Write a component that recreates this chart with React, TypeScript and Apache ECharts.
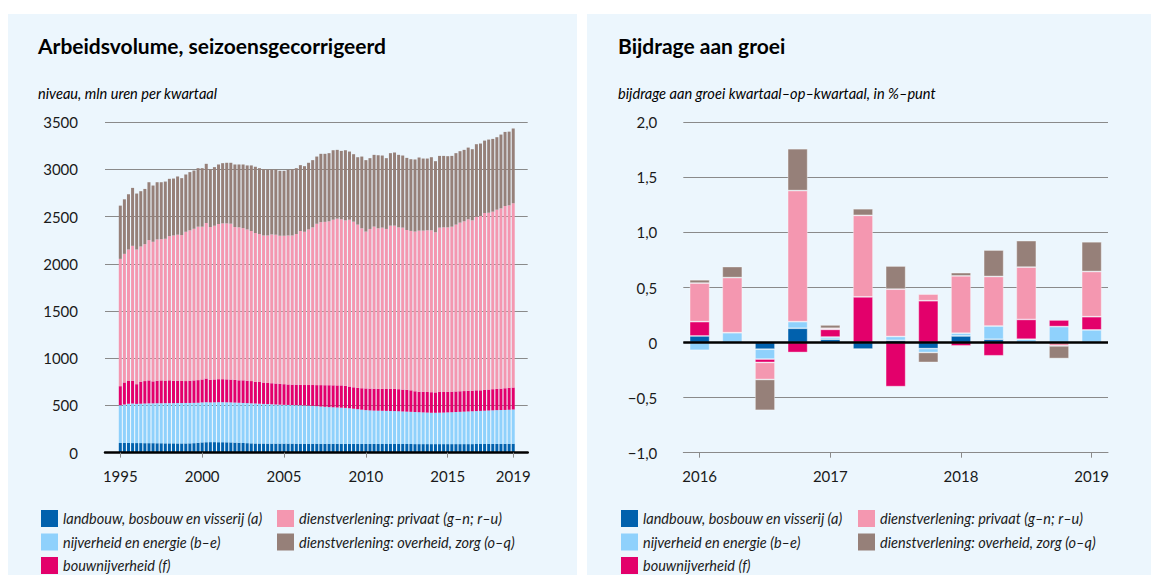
import React, { useEffect, useRef } from "react";
import * as echarts from "echarts";

const FONT = "Lato, 'Noto Sans', sans-serif";

const sectorNames = [
  "landbouw, bosbouw en visserij (a)",
  "nijverheid en energie (b–e)",
  "bouwnijverheid (f)",
  "dienstverlening: privaat (g–n; r–u)",
  "dienstverlening: overheid, zorg (o–q)",
];
const sectorColors = ["#0161ad", "#8fd1fc", "#e3006b", "#f497b0", "#968079"];

// ---- Left: level, mln hours per quarter, 1995 K1 .. 2019 K1 ----
const levelQuarters: string[] = [];
for (let y = 1995; y <= 2019; y++) {
  for (let q = 1; q <= 4; q++) {
    if (y === 2019 && q > 1) break;
    levelQuarters.push(`${y} K${q}`);
  }
}
const levelTickYears = [1995, 2000, 2005, 2010, 2015, 2019];

const landbouwLevel = [
  102, 102, 102, 101, 101, 101, 100, 100, 100, 99, 99, 98, 98, 98, 97, 97, 97, 98, 100, 104,
  108, 110, 111, 111, 110, 110, 109, 108, 106, 104, 102, 100, 98, 97, 96, 96, 95, 95, 95, 95,
  95, 95, 95, 94, 94, 94, 94, 94, 94, 93, 93, 93, 93, 93, 93, 93, 93, 92, 92, 92,
  92, 92, 92, 92, 91, 91, 91, 91, 91, 91, 91, 91, 90, 90, 90, 90, 90, 90, 90, 90,
  90, 90, 90, 90, 90, 90, 90, 91, 91, 91, 92, 92, 92, 92, 93, 93, 93,
];
const nijverheidLevel = [
  400, 408, 416, 419, 415, 417, 420, 422, 422, 424, 424, 426, 426, 426, 428, 428, 429, 428, 427, 424,
  424, 424, 421, 422, 424, 424, 424, 424, 424, 424, 424, 424, 424, 423, 422, 420, 419, 417, 415, 413,
  411, 410, 409, 409, 408, 406, 404, 402, 398, 395, 392, 389, 387, 385, 383, 381, 377, 373, 368, 363,
  358, 355, 353, 352, 352, 351, 350, 349, 347, 345, 343, 341, 340, 338, 336, 334, 332, 332, 333, 334,
  336, 338, 340, 342, 344, 346, 348, 349, 351, 353, 354, 356, 358, 359, 359, 361, 363,
];
const bouwLevel = [
  202, 233, 242, 242, 209, 234, 238, 243, 233, 239, 242, 239, 242, 236, 237, 235, 232, 236, 238, 240,
  243, 251, 240, 242, 244, 244, 243, 242, 240, 238, 240, 238, 236, 232, 230, 226, 224, 223, 222, 220,
  219, 217, 216, 217, 216, 216, 218, 220, 223, 227, 229, 232, 233, 234, 236, 234, 230, 227, 226, 227,
  230, 231, 232, 232, 232, 232, 235, 235, 234, 232, 231, 228, 220, 217, 219, 218, 218, 216, 219, 218,
  219, 218, 218, 218, 218, 219, 218, 220, 218, 220, 222, 224, 225, 227, 230, 232, 234,
];
const privaatLevel = [
  1349, 1363, 1392, 1429, 1427, 1432, 1451, 1487, 1479, 1497, 1497, 1503, 1528, 1541, 1547, 1545, 1582, 1593, 1607, 1626,
  1619, 1648, 1618, 1629, 1644, 1651, 1653, 1652, 1620, 1621, 1613, 1603, 1590, 1574, 1568, 1559, 1563, 1577, 1577, 1570,
  1573, 1579, 1581, 1596, 1630, 1624, 1649, 1671, 1710, 1727, 1731, 1737, 1755, 1767, 1760, 1753, 1768, 1755, 1730, 1695,
  1662, 1692, 1718, 1701, 1709, 1696, 1729, 1730, 1715, 1716, 1694, 1689, 1692, 1707, 1707, 1714, 1716, 1697, 1742, 1745,
  1742, 1748, 1768, 1787, 1799, 1817, 1805, 1840, 1847, 1875, 1874, 1881, 1899, 1910, 1931, 1934, 1951,
];
const overheidLevel = [
  564, 578, 586, 614, 593, 586, 585, 613, 596, 606, 603, 606, 607, 603, 617, 603, 607, 617, 617, 620,
  620, 627, 614, 621, 631, 638, 642, 645, 663, 666, 674, 678, 695, 702, 698, 703, 699, 688, 691, 688,
  688, 695, 703, 698, 698, 695, 706, 712, 712, 724, 721, 722, 736, 729, 725, 743, 722, 715, 714, 760,
  757, 750, 760, 774, 764, 750, 768, 775, 768, 764, 764, 760, 764, 775, 764, 760, 774, 753, 760, 757,
  754, 750, 757, 757, 757, 760, 754, 768, 768, 767, 775, 771, 768, 782, 785, 781, 792,
];

// ---- Right: contribution to q-o-q growth, %-point, 2016 K1 .. 2019 K1 ----
const growthQuarters = [
  "2016 K1", "2016 K2", "2016 K3", "2016 K4",
  "2017 K1", "2017 K2", "2017 K3", "2017 K4",
  "2018 K1", "2018 K2", "2018 K3", "2018 K4",
  "2019 K1",
];
const landbouwGrowth = [0.06, 0.0, -0.06, 0.13, 0.03, -0.06, 0.02, -0.055, 0.06, 0.03, 0.0, 0.0, 0.0];
const nijverheidGrowth = [-0.07, 0.09, -0.09, 0.06, 0.02, 0.0, 0.035, -0.035, 0.025, 0.12, 0.03, 0.145, 0.115];
const bouwGrowth = [0.13, 0.0, -0.03, -0.09, 0.07, 0.415, -0.4, 0.38, -0.03, -0.12, 0.18, 0.06, 0.12];
const privaatGrowth = [0.35, 0.5, -0.155, 1.19, 0.01, 0.74, 0.43, 0.06, 0.52, 0.45, 0.475, -0.03, 0.41];
const overheidGrowth = [0.03, 0.1, -0.28, 0.38, 0.03, 0.06, 0.21, -0.09, 0.03, 0.24, 0.24, -0.115, 0.27];

const levelSeries = [landbouwLevel, nijverheidLevel, bouwLevel, privaatLevel, overheidLevel];
const growthSeries = [landbouwGrowth, nijverheidGrowth, bouwGrowth, privaatGrowth, overheidGrowth];

const PANEL_BG = "#ecf6fd";
const GRID_COLOR = "#8a8a8a";
const TEXT_COLOR = "#1a1a1a";

// Left chart geometry: the frame (gridlines, axis) is a bit wider than the bar band.
const LEFT_FRAME = { left: 105, top: 122.3, width: 422.7, height: 330.3 };
const QUARTER_PX = 4.093;
const FIRST_BAR_CENTER = 120.3;
const frameYears = {
  min: 1995 - (FIRST_BAR_CENTER - LEFT_FRAME.left) / (QUARTER_PX * 4),
  max: 1995 + (LEFT_FRAME.left + LEFT_FRAME.width - FIRST_BAR_CENTER) / (QUARTER_PX * 4),
};

function fmtGrowth(v: number) {
  if (Math.abs(v) < 1e-9) return "0";
  const s = Math.abs(v).toFixed(1).replace(".", ",");
  return (v < 0 ? "−" : "") + s;
}

function buildOption() {
  const legendBase = {
    orient: "vertical" as const,
    icon: "rect",
    itemWidth: 17,
    itemHeight: 17,
    itemGap: 6.5,
    padding: 0,
    top: 510,
    selectedMode: false,
    textStyle: { fontFamily: FONT, fontStyle: "italic", fontSize: 14.5, color: TEXT_COLOR },
  };
  const text = (x: number, y: number, t: string, size: number, weight: string, style: string) => ({
    type: "text",
    x,
    y,
    silent: true,
    style: {
      text: t,
      fontFamily: FONT,
      fontSize: size,
      fontWeight: weight,
      fontStyle: style,
      fill: "#000",
      verticalAlign: "middle",
      align: "left",
    },
  });

  return {
    animation: false,
    textStyle: { fontFamily: FONT },
    graphic: [
      { type: "rect", z: -10, silent: true, shape: { x: 8, y: 14, width: 569, height: 561 }, style: { fill: PANEL_BG } },
      { type: "rect", z: -10, silent: true, shape: { x: 587, y: 14, width: 564, height: 561 }, style: { fill: PANEL_BG } },
      text(38, 45, "Arbeidsvolume, seizoensgecorrigeerd", 21, "bold", "normal"),
      text(38, 93, "niveau, mln uren per kwartaal", 14.6, "normal", "italic"),
      text(618, 45, "Bijdrage aan groei", 21, "bold", "normal"),
      text(618, 93, "bijdrage aan groei kwartaal–op–kwartaal, in %–punt", 14.6, "normal", "italic"),
    ],
    legend: [
      { ...legendBase, left: 41, data: sectorNames.slice(0, 3) },
      { ...legendBase, left: 277, data: sectorNames.slice(3) },
      { ...legendBase, left: 621, data: sectorNames.slice(0, 3) },
      { ...legendBase, left: 858, data: sectorNames.slice(3) },
    ],
    grid: [
      { ...LEFT_FRAME },
      { left: 683.3, top: 122.3, width: 424.7, height: 330.4 },
      {
        left: FIRST_BAR_CENTER - QUARTER_PX / 2,
        top: LEFT_FRAME.top,
        width: QUARTER_PX * levelQuarters.length,
        height: LEFT_FRAME.height,
      },
    ],
    xAxis: [
      {
        gridIndex: 0,
        type: "value",
        min: frameYears.min,
        max: frameYears.max,
        z: 5,
        splitLine: { show: false },
        axisLine: { show: true, onZero: false, lineStyle: { color: "#000", width: 2.5 } },
        axisTick: { show: true, length: 5, lineStyle: { color: GRID_COLOR }, customValues: levelTickYears },
        axisLabel: {
          customValues: levelTickYears,
          formatter: (v: number) => String(Math.round(v)),
          fontSize: 15,
          color: TEXT_COLOR,
          margin: 16,
          fontFamily: FONT,
        },
      },
      {
        gridIndex: 1,
        type: "category",
        data: growthQuarters,
        boundaryGap: true,
        axisLine: { show: true, onZero: false, lineStyle: { color: GRID_COLOR, width: 1 } },
        axisTick: {
          show: true,
          alignWithLabel: true,
          length: 5,
          interval: (i: number) => i % 4 === 0,
          lineStyle: { color: GRID_COLOR },
        },
        axisLabel: {
          interval: (i: number) => i % 4 === 0,
          formatter: (v: string) => v.slice(0, 4),
          fontSize: 15,
          color: TEXT_COLOR,
          margin: 16,
          fontFamily: FONT,
        },
      },
      {
        gridIndex: 2,
        type: "category",
        data: levelQuarters,
        boundaryGap: true,
        axisLine: { show: false },
        axisTick: { show: false },
        axisLabel: { show: false },
        splitLine: { show: false },
      },
    ],
    yAxis: [
      {
        gridIndex: 0,
        type: "value",
        min: 0,
        max: 3500,
        interval: 500,
        axisLine: { show: false },
        axisTick: { show: false },
        splitLine: { lineStyle: { color: GRID_COLOR, width: 1 } },
        axisLabel: {
          fontSize: 15,
          color: TEXT_COLOR,
          margin: 27,
          fontFamily: FONT,
          formatter: (v: number) => String(v),
        },
      },
      {
        gridIndex: 1,
        type: "value",
        min: -1,
        max: 2,
        interval: 0.5,
        axisLine: { show: false },
        axisTick: { show: false },
        splitLine: { lineStyle: { color: GRID_COLOR, width: 1 } },
        axisLabel: { fontSize: 15, color: TEXT_COLOR, margin: 26, fontFamily: FONT, formatter: fmtGrowth },
      },
      {
        gridIndex: 2,
        type: "value",
        min: 0,
        max: 3500,
        show: false,
        splitLine: { show: false },
      },
    ],
    series: [
      ...levelSeries.map((arr, s) => ({
        name: sectorNames[s],
        type: "bar",
        xAxisIndex: 2,
        yAxisIndex: 2,
        stack: "level",
        barWidth: 3,
        itemStyle: { color: sectorColors[s] },
        emphasis: { disabled: true },
        data: arr,
      })),
      ...growthSeries.map((arr, s) => ({
        name: sectorNames[s],
        type: "bar",
        xAxisIndex: 1,
        yAxisIndex: 1,
        stack: "growth",
        barWidth: 20,
        itemStyle: { color: sectorColors[s], borderColor: "rgba(255,255,255,0.45)", borderWidth: 0.8 },
        emphasis: { disabled: true },
        data: arr,
        ...(s === growthSeries.length - 1
          ? {
              markLine: {
                silent: true,
                symbol: "none",
                label: { show: false },
                lineStyle: { color: "#000", width: 2.5, type: "solid" },
                data: [{ yAxis: 0 }],
              },
            }
          : {}),
      })),
    ],
  };
}

export default function App() {
  const ref = useRef<HTMLDivElement>(null);
  useEffect(() => {
    if (!ref.current) return;
    const chart = echarts.init(ref.current, null, { renderer: "svg" });
    chart.setOption(buildOption() as any);
    return () => chart.dispose();
  }, []);
  return (
    <div style={{ position: "absolute", left: 0, top: 0, width: 1151, height: 575, background: "#fff" }}>
      <div ref={ref} style={{ width: 1151, height: 575 }} />
    </div>
  );
}
